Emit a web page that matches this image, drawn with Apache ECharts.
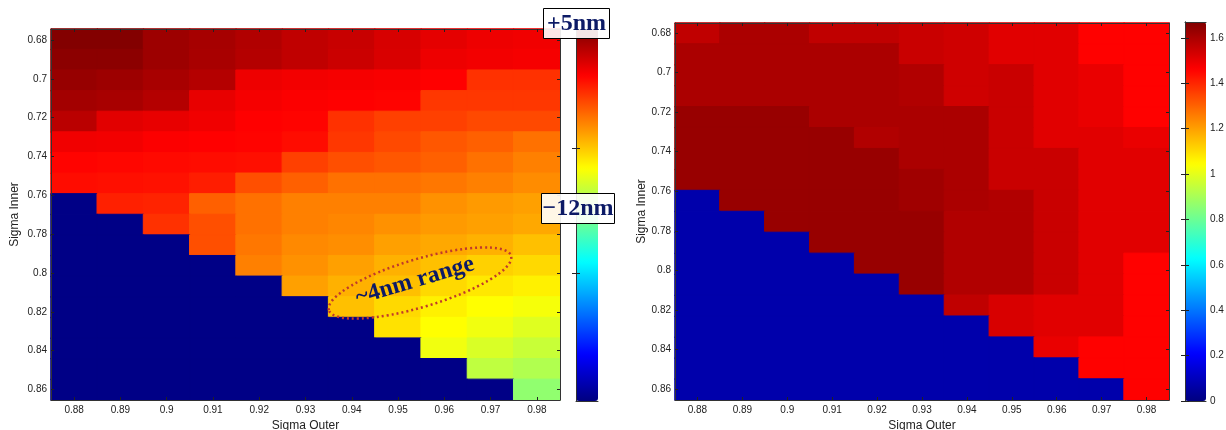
<!DOCTYPE html>
<html><head><meta charset="utf-8">
<style>html,body{margin:0;padding:0;background:#fff}#c{width:1226px;height:430px}</style>
<script src="https://cdn.jsdelivr.net/npm/echarts@6/dist/echarts.min.js"></script>
</head><body><div id="c"></div>
<script>
const sigmaOuter = ['0.88','0.89','0.9','0.91','0.92','0.93','0.94','0.95','0.96','0.97','0.98'];
const sigmaInnerRows = ['0.680','0.690','0.701','0.711','0.722','0.733','0.743','0.754','0.765','0.775','0.786','0.796','0.807','0.818','0.828','0.839','0.849','0.860'];
const innerTicks = [0.68,0.7,0.72,0.74,0.76,0.78,0.8,0.82,0.84,0.86];
const barTicks = [0,0.2,0.4,0.6,0.8,1,1.2,1.4,1.6];
const leftBarTicks = [-6.3,-18.1];
const jet = ['#000080','#0000ff','#0080ff','#00ffff','#80ff80','#ffff00','#ff8000','#ff0000','#800000'];
const N = -30; // out-of-range cells, left map (nm)
const focusNm = [
 [4.9,4.9,4.0,3.7,3.3,2.8,2.5,2.0,1.5,1.2,1.1],
 [4.6,4.6,4.0,3.6,3.2,2.8,2.4,1.9,1.2,1.0,0.9],
 [4.2,4.0,3.6,3.2,1.2,1.0,0.9,0.8,0.6,-1.1,-1.1],
 [3.8,3.6,3.2,1.4,0.9,0.7,0.6,0.5,-1.3,-1.3,-1.3],
 [3.0,1.6,1.4,1.1,0.6,0.5,-1.1,-1.6,-1.6,-1.9,-1.9],
 [1.1,1.0,0.7,0.6,0.5,0.2,-1.3,-1.9,-2.4,-2.7,-3.3],
 [0.5,0.4,0.3,0.2,0.1,-1.6,-2.1,-2.4,-2.7,-3.3,-3.8],
 [0.2,0.1,0.0,-0.4,-2.1,-2.7,-3.3,-3.3,-3.5,-3.8,-4.2],
 [N,-0.5,-0.6,-2.7,-3.3,-3.8,-3.8,-3.8,-4.4,-4.7,-4.9],
 [N,N,-1.1,-2.1,-3.3,-3.8,-4.0,-4.4,-4.7,-4.9,-5.2],
 [N,N,N,-2.1,-3.5,-4.1,-4.3,-4.9,-5.2,-5.5,-6.0],
 [N,N,N,N,-3.8,-4.4,-4.9,-5.5,-6.0,-6.6,-6.9],
 [N,N,N,N,N,-4.9,-5.5,-6.0,-6.9,-7.4,-7.7],
 [N,N,N,N,N,N,-6.0,-6.9,-7.7,-8.2,-8.5],
 [N,N,N,N,N,N,N,-7.2,-8.2,-8.7,-9.3],
 [N,N,N,N,N,N,N,N,-8.7,-9.5,-10.1],
 [N,N,N,N,N,N,N,N,N,-10.4,-10.9],
 [N,N,N,N,N,N,N,N,N,N,-12.0]
];
const B = 0.07; // out-of-range cells, right map
const rightValues = [
 [1.565,1.60,1.60,1.565,1.565,1.55,1.54,1.51,1.51,1.46,1.46],
 [1.60,1.60,1.60,1.60,1.60,1.55,1.54,1.51,1.51,1.46,1.46],
 [1.60,1.60,1.60,1.60,1.60,1.59,1.54,1.55,1.51,1.495,1.46],
 [1.60,1.60,1.60,1.60,1.60,1.59,1.54,1.55,1.51,1.495,1.46],
 [1.63,1.63,1.63,1.60,1.60,1.60,1.60,1.55,1.51,1.495,1.46],
 [1.63,1.63,1.63,1.63,1.59,1.60,1.60,1.55,1.51,1.51,1.495],
 [1.63,1.63,1.63,1.63,1.63,1.60,1.60,1.55,1.55,1.51,1.51],
 [1.63,1.63,1.63,1.63,1.63,1.617,1.60,1.55,1.55,1.51,1.51],
 [B,1.63,1.63,1.63,1.63,1.617,1.60,1.59,1.55,1.51,1.51],
 [B,B,1.63,1.63,1.63,1.63,1.59,1.59,1.55,1.51,1.51],
 [B,B,B,1.63,1.63,1.63,1.59,1.59,1.55,1.51,1.51],
 [B,B,B,B,1.63,1.63,1.59,1.59,1.55,1.51,1.46],
 [B,B,B,B,B,1.63,1.59,1.59,1.55,1.51,1.46],
 [B,B,B,B,B,B,1.565,1.525,1.51,1.51,1.46],
 [B,B,B,B,B,B,B,1.525,1.51,1.51,1.46],
 [B,B,B,B,B,B,B,B,1.495,1.46,1.46],
 [B,B,B,B,B,B,B,B,B,1.46,1.46],
 [B,B,B,B,B,B,B,B,B,B,1.46]
];
const jetRgb = jet.map(h => [1,3,5].map(i => parseInt(h.slice(i,i+2),16)));
function jetAt(f) {
  const p = Math.max(0,Math.min(1,f))*(jet.length-1), i = Math.min(jet.length-2,Math.floor(p)), t = p-i;
  const c = jetRgb[i].map((a,k) => Math.round(a+(jetRgb[i+1][k]-a)*t));
  return 'rgb('+c.join(',')+')';
}
// a hairline border in the cell's own colour closes the seams between neighbouring cells
const toCells = (m,min,max) => m.flatMap((row,r) => row.map((v,c) => ({
  value:[c,r,v], itemStyle:{borderWidth:1, borderColor:jetAt((v-min)/(max-min))}
})));

const font = 'Liberation Sans, Arial, sans-serif';
const navy = '#0c1a66', tickCol = '#222', lineCol = '#333';
const tickStyle = {color:tickCol, width:1};
const lbl = (margin) => ({color:tickCol, fontFamily:font, fontSize:10, margin});

function panelAxes(g, yMin, yMax, yNameGap) {
  const x = [
    {type:'category', gridIndex:g, data:sigmaOuter, position:'bottom', z:6, name:'Sigma Outer', nameLocation:'middle', nameGap:16,
     nameTextStyle:{color:tickCol, fontFamily:font, fontSize:12},
     axisLine:{lineStyle:{color:lineCol}}, axisTick:{show:true, alignWithLabel:true, inside:true, length:3, lineStyle:tickStyle},
     axisLabel:{...lbl(5), interval:0}, splitLine:{show:false}},
    {type:'category', gridIndex:g, data:sigmaOuter, position:'top', z:6,
     axisLine:{lineStyle:{color:lineCol}}, axisTick:{show:true, alignWithLabel:true, inside:true, length:3, lineStyle:tickStyle},
     axisLabel:{show:false}, splitLine:{show:false}}
  ];
  const y = [
    {type:'category', gridIndex:g, data:sigmaInnerRows, inverse:true, show:false},
    {type:'value', gridIndex:g, inverse:true, min:yMin, max:yMax, position:'left', z:6, name:'Sigma Inner', nameLocation:'middle', nameGap:yNameGap,
     nameTextStyle:{color:tickCol, fontFamily:font, fontSize:12},
     axisLine:{show:true, lineStyle:{color:lineCol}},
     axisTick:{show:true, inside:true, length:3, lineStyle:tickStyle, customValues:innerTicks},
     axisLabel:{...lbl(4), customValues:innerTicks, formatter:v=>String(v)}, splitLine:{show:false}},
    {type:'value', gridIndex:g, inverse:true, min:yMin, max:yMax, position:'right', z:6,
     axisLine:{show:true, lineStyle:{color:lineCol}},
     axisTick:{show:true, inside:true, length:3, lineStyle:tickStyle, customValues:innerTicks},
     axisLabel:{show:false}, splitLine:{show:false}}
  ];
  return {x, y};
}
const pL = panelAxes(0, 0.6743, 0.8654, 30);
const pR = panelAxes(1, 0.675, 0.8655, 25);
const frameX = (g,pos) => ({type:'value', gridIndex:g, position:pos, min:0, max:1, z:8, axisLine:{show:true,onZero:false,lineStyle:{color:lineCol}}, axisTick:{show:false}, axisLabel:{show:false}, splitLine:{show:false}});

const barAxis = (g, min, max, ticks, pos, labels) => ({
  type:'value', gridIndex:g, min, max, position:pos, z:8,
  axisLine:{show:true, lineStyle:{color:lineCol}},
  axisTick:{show:true, inside:true, length:4, lineStyle:{color:'#222'}, customValues:ticks},
  axisLabel: labels ? {...lbl(4), customValues:ticks, formatter:v=>String(v)} : {show:false},
  splitLine:{show:false}
});

const boxStyle = {fill:'rgba(255,255,255,0.9)', stroke:'#000', lineWidth:1};
const noteFont = 'Liberation Serif, Times New Roman, serif';

const option = {
  animation:false,
  backgroundColor:'#fff',
  tooltip:{show:false},
  grid:[
    {left:51, top:29, width:509, height:371, outerBoundsMode:'none'},
    {left:675, top:23, width:494, height:377, outerBoundsMode:'none'},
    {left:576, top:29, width:22, height:372, outerBoundsMode:'none'},
    {left:1185, top:22, width:21, height:379, outerBoundsMode:'none'}
  ],
  xAxis:[...pL.x, ...pR.x, frameX(2,'bottom'), frameX(2,'top'), frameX(3,'bottom'), frameX(3,'top')],
  yAxis:[...pL.y, ...pR.y,
    barAxis(2,-30.2,5,leftBarTicks,'left',false), barAxis(2,-30.2,5,leftBarTicks,'right',false),
    barAxis(3,0,1.67,barTicks,'left',false), barAxis(3,0,1.67,barTicks,'right',true)
  ],
  visualMap:[
    {type:'continuous', seriesIndex:0, min:-30.2, max:5, left:576, top:29, itemWidth:22, itemHeight:372, padding:0, borderRadius:0,
     text:null, showLabel:false, calculable:false, realtime:false, hoverLink:false, inRange:{color:jet}},
    {type:'continuous', seriesIndex:1, min:0, max:1.67, left:1185, top:22, itemWidth:21, itemHeight:379, padding:0, borderRadius:0,
     text:null, showLabel:false, calculable:false, realtime:false, hoverLink:false, inRange:{color:jet}}
  ],
  series:[
    {type:'heatmap', xAxisIndex:0, yAxisIndex:0, data:toCells(focusNm,-30.2,5), progressive:0, emphasis:{disabled:true}, silent:true},
    {type:'heatmap', xAxisIndex:2, yAxisIndex:3, data:toCells(rightValues,0,1.67), progressive:0, emphasis:{disabled:true}, silent:true}
  ],
  graphic:[
    {type:'ellipse', z:1000, x:420, y:283, rotation:0.29, shape:{cx:0,cy:0,rx:95,ry:24}, style:{fill:'none', stroke:'#c0392b', lineWidth:2.5, lineDash:[2,3]}},
    {type:'text', z:1001, x:415, y:281, rotation:0.29, style:{text:'~4nm range', font:'bold 24px '+noteFont, fill:navy, textAlign:'center', textVerticalAlign:'middle'}},
    {type:'rect', z:1000, shape:{x:543.5,y:8.5,width:66,height:30}, style:boxStyle},
    {type:'text', z:1001, x:576.5, y:24, style:{text:'+5nm', font:'bold 24px '+noteFont, fill:navy, textAlign:'center', textVerticalAlign:'middle'}},
    {type:'rect', z:1000, shape:{x:541.5,y:193.5,width:73,height:30}, style:boxStyle},
    {type:'text', z:1001, x:578, y:209, style:{text:'\u221212nm', font:'bold 24px '+noteFont, fill:navy, textAlign:'center', textVerticalAlign:'middle'}}
  ]
};
const chart = echarts.init(document.getElementById('c'), null, {renderer:'canvas'});
chart.setOption(option);
</script></body></html>
